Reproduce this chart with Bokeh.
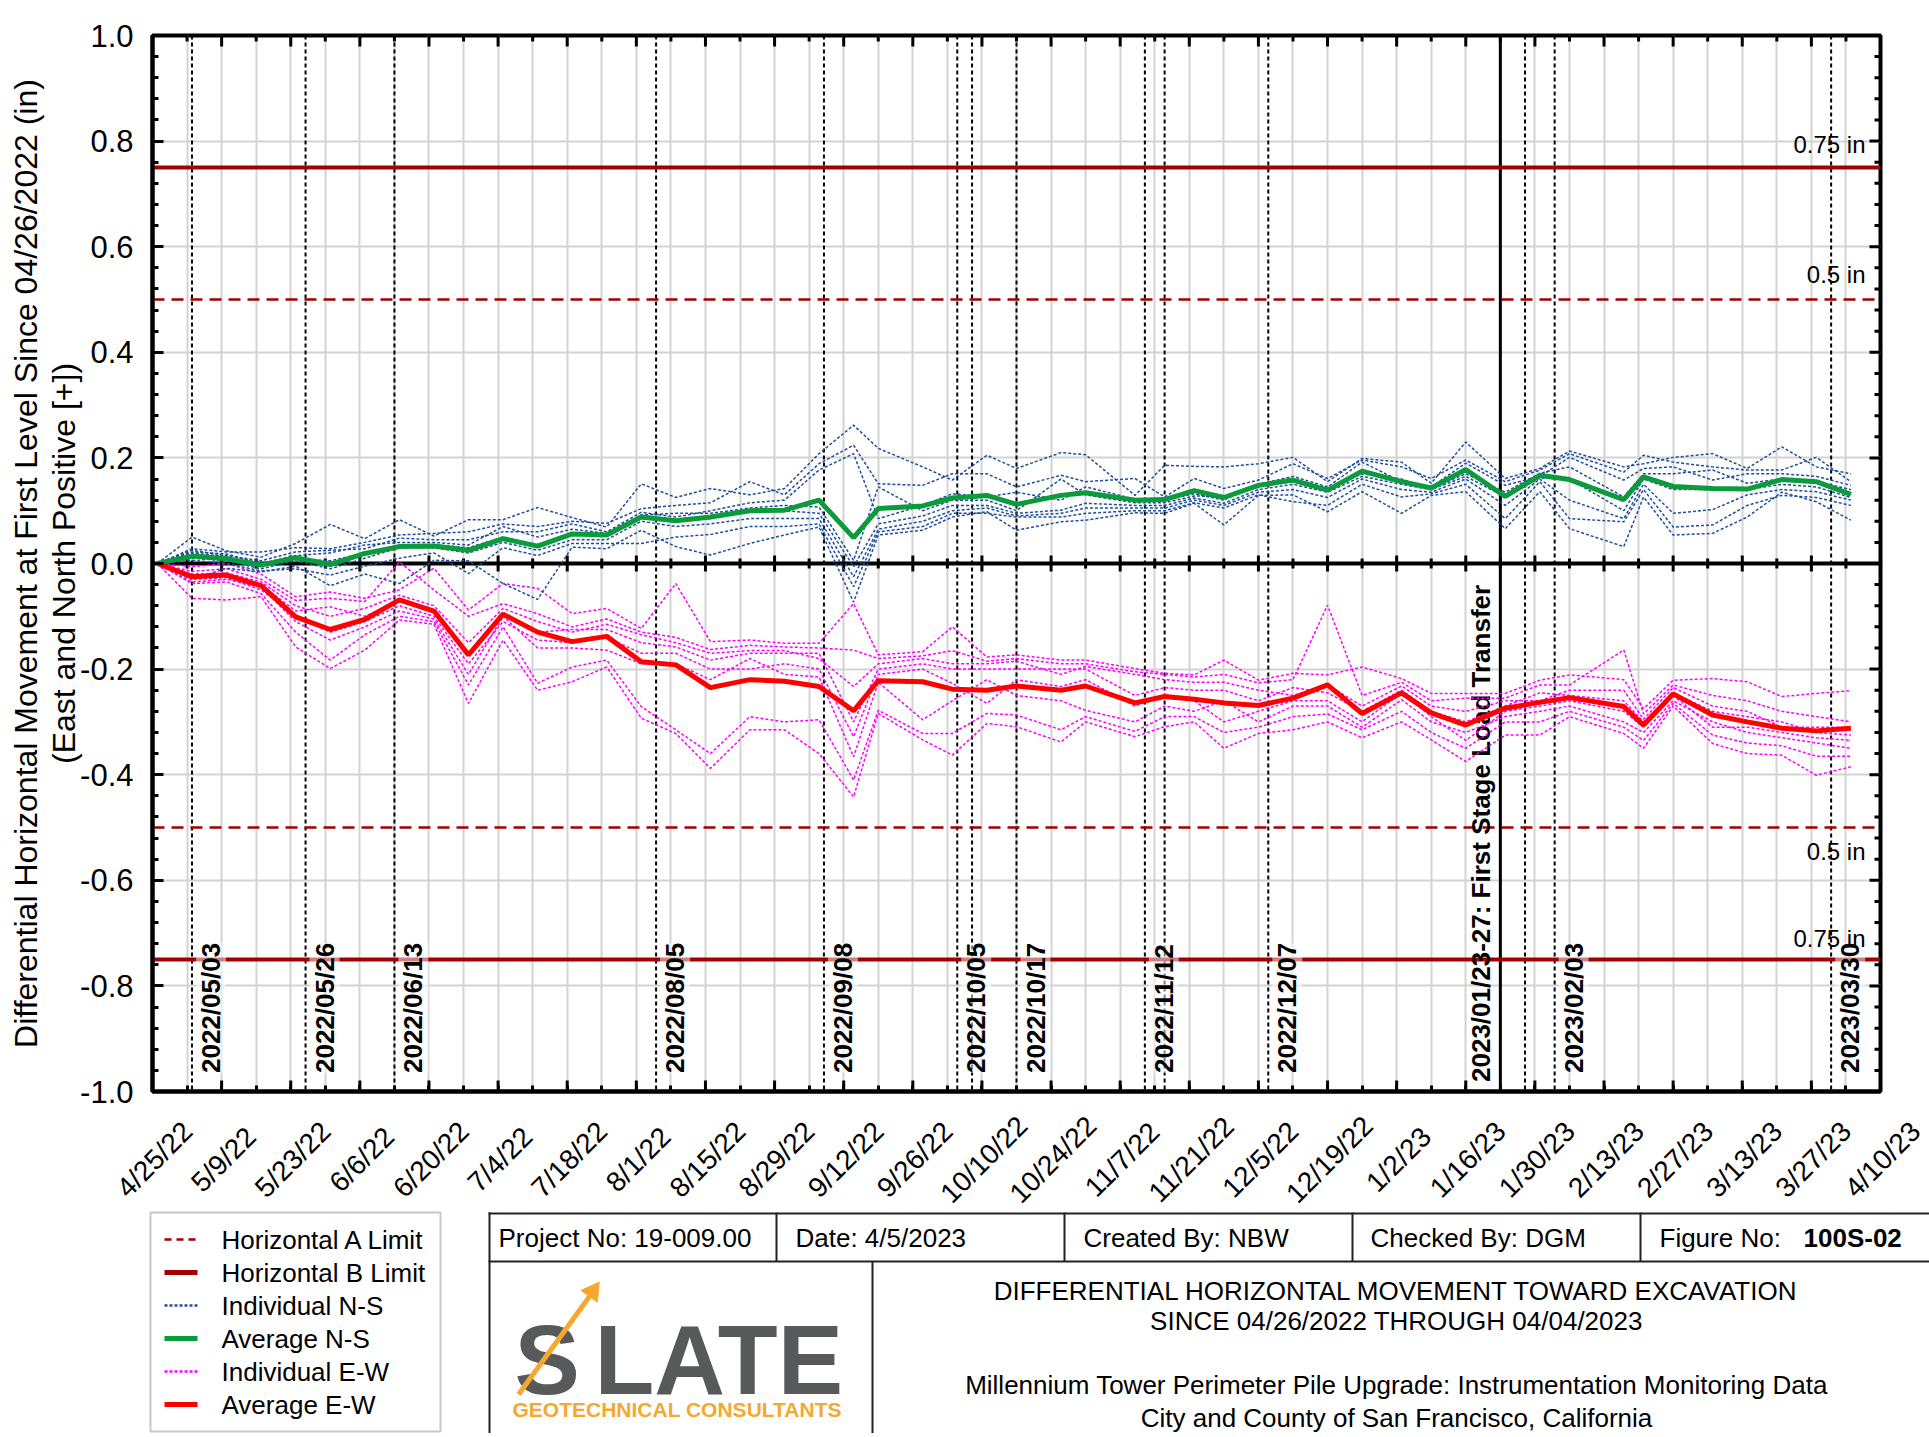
import math
from datetime import datetime
import pandas as pd
from bokeh.plotting import figure
from bokeh.layouts import column
from bokeh.models import (ColumnDataSource, Span, FixedTicker, LinearAxis, PrintfTickFormatter, Range1d)
from bokeh.core.properties import value
from bokeh.embed import file_html
from bokeh.resources import INLINE

FONT = "Liberation Sans"

# ---------------- data ----------------
survey_dates = ["2022-04-26", "2022-05-03", "2022-05-10", "2022-05-17", "2022-05-24", "2022-05-31",
                "2022-06-07", "2022-06-14", "2022-06-21", "2022-06-28", "2022-07-05", "2022-07-12",
                "2022-07-19", "2022-07-26", "2022-08-02", "2022-08-09", "2022-08-16", "2022-08-24",
                "2022-08-31", "2022-09-07", "2022-09-14", "2022-09-19", "2022-09-28", "2022-10-04",
                "2022-10-11", "2022-10-17", "2022-10-26", "2022-10-31", "2022-11-10", "2022-11-16",
                "2022-11-22", "2022-11-28", "2022-12-05", "2022-12-12", "2022-12-19", "2022-12-26",
                "2023-01-03", "2023-01-09", "2023-01-16", "2023-01-24", "2023-01-31", "2023-02-06",
                "2023-02-17", "2023-02-21", "2023-02-27", "2023-03-07", "2023-03-14", "2023-03-21",
                "2023-03-28", "2023-04-04"]

avg_ns = [0.0, 0.014, 0.009, -0.003, 0.011, -0.002, 0.019, 0.032, 0.033, 0.025, 0.047, 0.033,
          0.056, 0.054, 0.088, 0.081, 0.088, 0.100, 0.101, 0.120, 0.049, 0.104, 0.109, 0.124,
          0.129, 0.112, 0.129, 0.134, 0.120, 0.121, 0.138, 0.125, 0.148, 0.158, 0.139, 0.175,
          0.155, 0.143, 0.178, 0.127, 0.167, 0.159, 0.121, 0.164, 0.146, 0.142, 0.141, 0.159,
          0.155, 0.131]

avg_ew = [0.0, -0.025, -0.022, -0.042, -0.101, -0.125, -0.106, -0.069, -0.090, -0.173, -0.096, -0.130,
          -0.148, -0.138, -0.186, -0.192, -0.235, -0.220, -0.223, -0.233, -0.279, -0.222, -0.224, -0.238,
          -0.240, -0.232, -0.240, -0.232, -0.264, -0.252, -0.257, -0.264, -0.269, -0.255, -0.230, -0.284,
          -0.245, -0.283, -0.306, -0.274, -0.263, -0.254, -0.271, -0.306, -0.247, -0.287, -0.300, -0.312,
          -0.317, -0.312]

ns_1 = [0.0, 0.050, 0.024, 0.012, 0.038, 0.074, 0.047, 0.083, 0.052, 0.083, 0.083, 0.106, 0.087, 0.069,
        0.151, 0.125, 0.142, 0.130, 0.142, 0.208, 0.262, 0.218, 0.183, 0.158, 0.205, 0.180, 0.210, 0.206,
        0.129, 0.186, 0.184, 0.183, 0.189, 0.201, 0.155, 0.199, 0.192, 0.152, 0.230, 0.161, 0.180, 0.213,
        0.183, 0.189, 0.201, 0.208, 0.180, 0.221, 0.183, 0.170]
ns_2 = [0.0, 0.028, 0.022, 0.022, 0.030, 0.028, 0.040, 0.054, 0.057, 0.060, 0.075, 0.070, 0.080, 0.076,
        0.104, 0.110, 0.115, 0.155, 0.130, 0.189, 0.224, 0.151, 0.148, 0.170, 0.170, 0.145, 0.167, 0.155,
        0.161, 0.126, 0.161, 0.142, 0.158, 0.189, 0.161, 0.196, 0.183, 0.161, 0.196, 0.155, 0.177, 0.208,
        0.173, 0.205, 0.192, 0.183, 0.177, 0.177, 0.201, 0.155]
ns_3 = [0.0, 0.025, 0.015, 0.005, 0.022, 0.025, 0.028, 0.048, 0.045, 0.045, 0.060, 0.060, 0.075, 0.060,
        0.097, 0.088, 0.100, 0.115, 0.120, 0.177, 0.208, 0.085, 0.110, 0.132, 0.126, 0.135, 0.120, 0.145,
        0.122, 0.120, 0.132, 0.120, 0.150, 0.165, 0.145, 0.192, 0.155, 0.145, 0.190, 0.148, 0.165, 0.201,
        0.158, 0.180, 0.183, 0.158, 0.170, 0.170, 0.165, 0.148]
ns_4 = [0.0, 0.022, 0.018, 0.000, 0.015, 0.020, 0.035, 0.040, 0.040, 0.035, 0.070, 0.050, 0.065, 0.057,
        0.092, 0.095, 0.095, 0.105, 0.110, 0.107, 0.006, 0.145, 0.100, 0.120, 0.120, 0.100, 0.160, 0.130,
        0.115, 0.115, 0.128, 0.126, 0.145, 0.155, 0.140, 0.170, 0.160, 0.142, 0.170, 0.135, 0.171, 0.183,
        0.126, 0.170, 0.170, 0.177, 0.152, 0.160, 0.155, 0.140]
ns_5 = [0.0, 0.020, 0.013, -0.005, 0.010, 0.005, 0.020, 0.035, 0.035, 0.030, 0.050, 0.035, 0.055, 0.052,
        0.085, 0.080, 0.085, 0.100, 0.100, 0.095, -0.006, 0.075, 0.090, 0.110, 0.110, 0.095, 0.101, 0.114,
        0.110, 0.110, 0.124, 0.114, 0.140, 0.150, 0.135, 0.165, 0.150, 0.140, 0.165, 0.126, 0.162, 0.160,
        0.100, 0.160, 0.140, 0.140, 0.140, 0.150, 0.145, 0.125]
ns_6 = [0.0, 0.010, 0.005, -0.010, 0.005, -0.010, 0.010, 0.030, 0.030, 0.020, 0.040, 0.025, 0.045, 0.045,
        0.080, 0.070, 0.075, 0.085, 0.085, 0.085, -0.025, 0.065, 0.080, 0.100, 0.105, 0.090, 0.095, 0.105,
        0.105, 0.105, 0.120, 0.110, 0.135, 0.140, 0.125, 0.160, 0.140, 0.135, 0.160, 0.110, 0.160, 0.120,
        0.085, 0.150, 0.095, 0.102, 0.130, 0.140, 0.136, 0.120]
ns_7 = [0.0, 0.006, 0.000, -0.014, -0.010, -0.022, -0.005, 0.010, 0.020, -0.019, 0.030, 0.015, 0.038, 0.038,
        0.038, 0.050, 0.055, 0.070, 0.070, 0.075, -0.044, 0.060, 0.070, 0.095, 0.095, 0.088, 0.088, 0.095,
        0.100, 0.100, 0.115, 0.105, 0.130, 0.117, 0.110, 0.150, 0.126, 0.132, 0.150, 0.085, 0.155, 0.085,
        0.079, 0.140, 0.069, 0.073, 0.110, 0.129, 0.125, 0.110]
ns_8 = [0.0, -0.030, -0.009, -0.016, -0.005, -0.042, -0.020, -0.038, 0.006, 0.005, -0.038, -0.068, 0.031, 0.028,
        0.063, 0.032, 0.016, 0.038, 0.054, 0.069, -0.073, 0.054, 0.063, 0.088, 0.098, 0.063, 0.079, 0.082,
        0.096, 0.095, 0.114, 0.073, 0.129, 0.130, 0.098, 0.136, 0.095, 0.129, 0.136, 0.066, 0.136, 0.066,
        0.032, 0.126, 0.054, 0.057, 0.088, 0.135, 0.117, 0.082]

ew_1 = [0.0, -0.006, 0.000, -0.020, -0.063, -0.054, -0.066, -0.050, -0.009, -0.088, -0.038, -0.047, -0.095,
        -0.085, -0.123, -0.038, -0.148, -0.145, -0.151, -0.151, -0.076, -0.173, -0.167, -0.120, -0.177,
        -0.173, -0.183, -0.183, -0.199, -0.208, -0.211, -0.183, -0.221, -0.208, -0.211, -0.196, -0.218,
        -0.246, -0.246, -0.246, -0.221, -0.211, -0.220, -0.275, -0.221, -0.218, -0.224, -0.252, -0.246, -0.241]
ew_2 = [0.0, -0.015, -0.010, -0.030, -0.070, -0.066, -0.072, 0.003, -0.050, -0.100, -0.076, -0.095, -0.120,
        -0.105, -0.130, -0.140, -0.163, -0.155, -0.158, -0.160, -0.164, -0.180, -0.175, -0.165, -0.185,
        -0.180, -0.190, -0.190, -0.205, -0.210, -0.215, -0.210, -0.226, -0.220, -0.079, -0.250, -0.225,
        -0.260, -0.255, -0.255, -0.230, -0.230, -0.164, -0.285, -0.230, -0.250, -0.260, -0.280, -0.290, -0.300]
ew_3 = [0.0, -0.020, -0.018, -0.035, -0.080, -0.100, -0.085, -0.060, -0.080, -0.150, -0.085, -0.110, -0.130,
        -0.115, -0.135, -0.150, -0.170, -0.165, -0.165, -0.180, -0.233, -0.190, -0.180, -0.190, -0.190,
        -0.185, -0.210, -0.195, -0.210, -0.220, -0.225, -0.225, -0.240, -0.250, -0.230, -0.270, -0.232,
        -0.270, -0.280, -0.260, -0.260, -0.240, -0.240, -0.295, -0.235, -0.270, -0.280, -0.310, -0.310, -0.310]
ew_4 = [0.0, -0.025, -0.022, -0.040, -0.090, -0.082, -0.100, -0.070, -0.090, -0.170, -0.095, -0.130, -0.125,
        -0.125, -0.150, -0.158, -0.183, -0.170, -0.170, -0.170, -0.300, -0.200, -0.190, -0.200, -0.200,
        -0.200, -0.200, -0.200, -0.250, -0.235, -0.240, -0.240, -0.260, -0.235, -0.245, -0.280, -0.240,
        -0.280, -0.300, -0.270, -0.245, -0.250, -0.260, -0.300, -0.245, -0.280, -0.290, -0.300, -0.320, -0.325]
ew_5 = [0.0, -0.030, -0.027, -0.050, -0.098, -0.130, -0.110, -0.080, -0.100, -0.190, -0.110, -0.145, -0.150,
        -0.140, -0.170, -0.170, -0.200, -0.200, -0.190, -0.200, -0.328, -0.210, -0.200, -0.227, -0.265,
        -0.220, -0.233, -0.220, -0.270, -0.250, -0.260, -0.300, -0.280, -0.260, -0.260, -0.300, -0.245,
        -0.290, -0.335, -0.280, -0.270, -0.260, -0.280, -0.310, -0.250, -0.310, -0.310, -0.320, -0.330, -0.335]
ew_6 = [0.0, -0.035, -0.030, -0.045, -0.110, -0.145, -0.120, -0.090, -0.105, -0.210, -0.100, -0.160, -0.160,
        -0.164, -0.190, -0.190, -0.220, -0.180, -0.210, -0.215, -0.366, -0.225, -0.296, -0.260, -0.220,
        -0.250, -0.260, -0.278, -0.300, -0.270, -0.280, -0.260, -0.300, -0.270, -0.270, -0.310, -0.258,
        -0.300, -0.320, -0.290, -0.280, -0.270, -0.300, -0.320, -0.260, -0.300, -0.320, -0.330, -0.340, -0.350]
ew_7 = [0.0, -0.038, -0.035, -0.057, -0.130, -0.183, -0.135, -0.100, -0.110, -0.230, -0.120, -0.227, -0.196,
        -0.183, -0.271, -0.315, -0.360, -0.290, -0.300, -0.296, -0.410, -0.278, -0.322, -0.322, -0.284,
        -0.287, -0.315, -0.290, -0.318, -0.290, -0.290, -0.320, -0.310, -0.290, -0.285, -0.315, -0.280,
        -0.320, -0.350, -0.300, -0.300, -0.280, -0.310, -0.335, -0.265, -0.325, -0.340, -0.345, -0.365, -0.365]
ew_8 = [0.0, -0.066, -0.069, -0.063, -0.158, -0.199, -0.164, -0.107, -0.115, -0.265, -0.145, -0.240, -0.224,
        -0.196, -0.293, -0.322, -0.388, -0.315, -0.315, -0.360, -0.442, -0.284, -0.334, -0.363, -0.303,
        -0.309, -0.338, -0.300, -0.328, -0.309, -0.300, -0.350, -0.322, -0.315, -0.300, -0.330, -0.300,
        -0.334, -0.375, -0.325, -0.325, -0.290, -0.322, -0.350, -0.270, -0.341, -0.360, -0.363, -0.401, -0.385]

x_tick_labels = ["4/25/22", "5/9/22", "5/23/22", "6/6/22", "6/20/22", "7/4/22", "7/18/22", "8/1/22",
                 "8/15/22", "8/29/22", "9/12/22", "9/26/22", "10/10/22", "10/24/22", "11/7/22",
                 "11/21/22", "12/5/22", "12/19/22", "1/2/23", "1/16/23", "1/30/23", "2/13/23",
                 "2/27/23", "3/13/23", "3/27/23", "4/10/23"]
y_tick_values = [-1.0, -0.8, -0.6, -0.4, -0.2, 0.0, 0.2, 0.4, 0.6, 0.8, 1.0]

limit_a = 0.5
limit_b = 0.75

event_dates = ["2022-05-03", "2022-05-26", "2022-06-13", "2022-08-05", "2022-09-08", "2022-10-05",
               "2022-10-17", "2022-11-12", "2022-12-07", "2023-02-03", "2023-03-31"]
event_labels = ["2022/05/03", "2022/05/26", "2022/06/13", "2022/08/05", "2022/09/08", "2022/10/05",
                "2022/10/17", "2022/11/12", "2022/12/07", "2023/02/03", "2023/03/30"]
unlabeled_event_dates = ["2022-10-08", "2022-11-16", "2023-01-28"]
transfer_date = "2023-01-23"
transfer_label = "2023/01/23-27:  First Stage Load Transfer"

legend_labels = ["Horizontal A Limit", "Horizontal B Limit", "Individual N-S", "Average N-S",
                 "Individual E-W", "Average E-W"]

# ---------------- helpers ----------------
def ms(d):
    return int(pd.Timestamp(d).value // 10**6)

major_dt = [datetime.strptime(s, "%m/%d/%y") for s in x_tick_labels]
major_ms = [ms(d) for d in major_dt]
minor_ms = sorted(set(major_ms + [ms(pd.Timestamp(d) + pd.Timedelta(days=7)) for d in major_dt[:-1]]))
weekly_only = [t for t in minor_ms if t not in major_ms]
y_minor = [round(-1.0 + 0.04 * i, 2) for i in range(51)]
y_minor_only = [v for v in y_minor if v not in y_tick_values]

LIMIT = "#a30000"
GREEN = "#0b9a3c"
RED = "#ff0000"
BLUE = "#1f4e9c"
MAGENTA = "#ff00ff"
GRID = "#d3d3d3"
ORANGE = "#f5a830"
LOGO_GREY = "#58595b"

W = 1929
FL, FR, FT, FB = 152, 1880, 35, 1091     # chart frame edges (page pixels)
H1 = FB + 20                             # height of the chart figure
H2 = 1433 - H1                           # height of the lower strip

src = ColumnDataSource(dict(
    date=[ms(d) for d in survey_dates], avg_ns=avg_ns, avg_ew=avg_ew,
    ns_1=ns_1, ns_2=ns_2, ns_3=ns_3, ns_4=ns_4, ns_5=ns_5, ns_6=ns_6, ns_7=ns_7, ns_8=ns_8,
    ew_1=ew_1, ew_2=ew_2, ew_3=ew_3, ew_4=ew_4, ew_5=ew_5, ew_6=ew_6, ew_7=ew_7, ew_8=ew_8))

x0, x1 = major_ms[0], major_ms[-1]
y0, y1 = y_tick_values[0], y_tick_values[-1]


def no_frame_align(fig):
    try:
        fig.frame_align = False
    except Exception:
        pass


# ---------------- main chart ----------------
p = figure(width=W, height=H1, x_axis_type="datetime",
           x_range=Range1d(x0, x1), y_range=Range1d(y0, y1),
           output_backend="svg", toolbar_location=None,
           min_border_left=FL, min_border_right=W - FR, min_border_top=FT, min_border_bottom=H1 - FB,
           background_fill_color="white", border_fill_color="white")
no_frame_align(p)
p.outline_line_color = "black"
p.outline_line_width = 4

xa = p.xaxis[0]
xa.ticker = FixedTicker(ticks=[], minor_ticks=minor_ms)
xa.axis_line_width = 4
xa.minor_tick_in = 6
xa.minor_tick_out = 0
xa.minor_tick_line_width = 3
xa.major_tick_out = 0
xa.major_label_standoff = 0

ya = p.yaxis[0]
ya.ticker = FixedTicker(ticks=y_tick_values, minor_ticks=y_minor)
ya.formatter = PrintfTickFormatter(format="%.1f")
ya.axis_line_width = 4
ya.major_tick_in = 11
ya.major_tick_out = 0
ya.minor_tick_in = 6
ya.minor_tick_out = 0
ya.major_tick_line_width = 3
ya.minor_tick_line_width = 3
ya.major_label_text_font = FONT
ya.major_label_text_font_size = "31px"
ya.major_label_text_color = "black"
ya.major_label_standoff = 19
ya.axis_label = "(East and North Positive [+])"
ya.axis_label_text_font = FONT
ya.axis_label_text_font_size = "32px"
ya.axis_label_text_font_style = "normal"
ya.axis_label_text_color = "black"
ya.axis_label_standoff = -5

ya2 = LinearAxis(ticker=FixedTicker(ticks=[]),
                 axis_label="Differential Horizontal Movement at First Level Since 04/26/2022 (in)")
ya2.axis_line_color = None
ya2.major_tick_in = 0
ya2.major_tick_out = 0
ya2.minor_tick_in = 0
ya2.minor_tick_out = 0
ya2.major_label_standoff = 0
ya2.axis_label_text_font = FONT
ya2.axis_label_text_font_size = "32px"
ya2.axis_label_text_font_style = "normal"
ya2.axis_label_text_color = "black"
ya2.axis_label_standoff = 0
p.add_layout(ya2, "left")

p.xgrid.ticker = FixedTicker(ticks=minor_ms)
p.ygrid.ticker = FixedTicker(ticks=y_tick_values)
p.grid.grid_line_color = GRID
p.grid.grid_line_width = 2

# event lines
for d in event_dates + unlabeled_event_dates:
    p.add_layout(Span(location=ms(d), dimension="height", line_color="black", line_width=2,
                      line_dash="4 3", level="underlay"))
p.add_layout(Span(location=ms(transfer_date), dimension="height", line_color="black",
                  line_width=3, level="underlay"))
p.add_layout(Span(location=0, dimension="width", line_color="black", line_width=4, level="underlay"))

# limit lines
for v in (limit_b, -limit_b):
    p.line(x=[x0, x1], y=[v, v], line_color=LIMIT, line_width=4)
for v in (limit_a, -limit_a):
    p.line(x=[x0, x1], y=[v, v], line_color=LIMIT, line_width=2.5, line_dash="12 7")

# tick marks on the frame edges and on the zero line
tick_kw = dict(marker="dash", line_color="black", line_width=3)
for yy in (y0, y1):
    p.scatter(x=major_ms, y=[yy] * len(major_ms), angle=math.pi / 2, size=22, **tick_kw)
p.scatter(x=weekly_only, y=[y1] * len(weekly_only), angle=math.pi / 2, size=12, **tick_kw)
p.scatter(x=[x1] * len(y_tick_values), y=y_tick_values, size=22, **tick_kw)
p.scatter(x=[x1] * len(y_minor_only), y=y_minor_only, size=12, **tick_kw)
p.scatter(x=major_ms, y=[0.0] * len(major_ms), angle=math.pi / 2, size=16, **tick_kw)
p.scatter(x=weekly_only, y=[0.0] * len(weekly_only), angle=math.pi / 2, size=10, **tick_kw)

# event labels
ev_src = ColumnDataSource(dict(x=[ms(d) for d in event_dates], text=event_labels))
p.text(x="x", y=-0.965, text="text", source=ev_src, angle=math.pi / 2, text_align="left",
       text_baseline="top", x_offset=4, text_font=value(FONT), text_font_style="bold",
       text_font_size="26px", text_color="black",
       background_fill_color="white", background_fill_alpha=0.5)
p.text(x=[ms(transfer_date)], y=[-0.982], text=[transfer_label], angle=math.pi / 2,
       text_align="left", text_baseline="bottom", x_offset=-4, text_font=value(FONT),
       text_font_style="bold", text_font_size="26px", text_color="black")

# limit labels
lim_kw = dict(text_align="right", text_baseline="alphabetic", x_offset=-15,
              text_font=value(FONT), text_font_size="24px", text_color="black")
p.text(x=[x1], y=[limit_b], text=["0.75 in"], y_offset=-23, **lim_kw)
p.text(x=[x1], y=[limit_a], text=["0.5 in"], y_offset=-25, **lim_kw)
p.text(x=[x1], y=[-limit_a], text=["0.5 in"], y_offset=24, **lim_kw)
p.text(x=[x1], y=[-limit_b], text=["0.75 in"], y_offset=-21, **lim_kw)

# data
for c in ["ew_1", "ew_2", "ew_3", "ew_4", "ew_5", "ew_6", "ew_7", "ew_8"]:
    p.line(x="date", y=c, source=src, line_color=MAGENTA, line_width=1.5, line_dash="3 2")
for c in ["ns_1", "ns_2", "ns_3", "ns_4", "ns_5", "ns_6", "ns_7", "ns_8"]:
    p.line(x="date", y=c, source=src, line_color=BLUE, line_width=1.5, line_dash="3 2")
p.line(x="date", y="avg_ns", source=src, line_color=GREEN, line_width=5)
p.line(x="date", y="avg_ew", source=src, line_color=RED, line_width=5)

# ---------------- lower strip: x tick labels, legend, title block ----------------
k = (x1 - x0) / (FR - FL)          # ms per pixel, identical to the chart's x scale


def X(px):
    return x0 + (px - FL) * k


p2 = figure(width=W, height=H2, x_range=Range1d(X(0), X(W)), y_range=Range1d(1433, H1),
            output_backend="svg", toolbar_location=None, min_border=0,
            x_axis_location=None, y_axis_location=None,
            background_fill_color="white", border_fill_color="white")
no_frame_align(p2)
p2.outline_line_color = None
p2.grid.visible = False

# x tick labels (centred under the chart's ticks)
p2.text(x=major_ms, y=[1159] * len(major_ms), text=x_tick_labels, angle=math.pi / 4,
        x_offset=2, text_align="center", text_baseline="middle", text_font=value(FONT),
        text_font_size="28px", text_color="black")

# legend
p2.quad(left=[X(150)], right=[X(440)], top=[1212], bottom=[1431], fill_color="white",
        line_color="#c8c8c8", line_width=2)
rows = [1239, 1272, 1305, 1338, 1371, 1404]
p2.segment(x0=[X(164)], y0=[rows[0]], x1=[X(197)], y1=[rows[0]], line_color=LIMIT,
           line_width=2.5, line_dash="7 5")
p2.segment(x0=[X(164)], y0=[rows[1]], x1=[X(197)], y1=[rows[1]], line_color=LIMIT, line_width=5)
p2.segment(x0=[X(164)], y0=[rows[2]], x1=[X(197)], y1=[rows[2]], line_color=BLUE,
           line_width=2.5, line_dash="3 2")
p2.segment(x0=[X(164)], y0=[rows[3]], x1=[X(197)], y1=[rows[3]], line_color=GREEN, line_width=5)
p2.segment(x0=[X(164)], y0=[rows[4]], x1=[X(197)], y1=[rows[4]], line_color=MAGENTA,
           line_width=2.5, line_dash="3 2")
p2.segment(x0=[X(164)], y0=[rows[5]], x1=[X(197)], y1=[rows[5]], line_color=RED, line_width=5)
p2.text(x=[X(221)] * 6, y=rows, text=legend_labels, text_align="left", text_baseline="middle",
        text_font=value(FONT), text_font_size="26px", text_color="black")

# title block frame
p2.segment(x0=[X(488), X(488), X(489), X(776), X(1064), X(1352), X(1640), X(872)],
           y0=[1213, 1261, 1212, 1212, 1212, 1212, 1212, 1261],
           x1=[X(W), X(W), X(489), X(776), X(1064), X(1352), X(1640), X(872)],
           y1=[1213, 1261, 1433, 1261, 1261, 1261, 1261, 1433],
           line_color="#222222", line_width=2)

hdr_kw = dict(text_baseline="middle", text_align="left", text_font=value(FONT),
              text_font_size="26px", text_color="black")
p2.text(x=[X(498), X(795), X(1083), X(1370), X(1659)], y=[1237] * 5,
        text=["Project No: 19-009.00", "Date:  4/5/2023", "Created By:  NBW",
              "Checked By:  DGM", "Figure No:"], **hdr_kw)
p2.text(x=[X(1803)], y=[1237], text=["100S-02"], text_font_style="bold", **hdr_kw)

body_kw = dict(text_baseline="middle", text_align="center", text_font=value(FONT),
               text_font_size="26px", text_color="black")
p2.text(x=[X(1396)] * 4, y=[1290, 1320, 1384, 1417],
        text=["DIFFERENTIAL HORIZONTAL MOVEMENT TOWARD EXCAVATION",
              "SINCE 04/26/2022 THROUGH 04/04/2023",
              "Millennium Tower Perimeter Pile Upgrade: Instrumentation Monitoring Data",
              "City and County of San Francisco, California"], **body_kw)

# logo
logo_kw = dict(text_baseline="alphabetic", text_align="left", text_font=value(FONT),
               text_font_style="bold", text_font_size="98px", text_color=LOGO_GREY)
p2.text(x=[X(514)], y=[1359], text=["S"], **logo_kw)
p2.text(x=[X(594)], y=[1359], text=["LATE"], **logo_kw)
p2.segment(x0=[X(518)], y0=[1394], x1=[X(589)], y1=[1296], line_color=ORANGE, line_width=5)
p2.scatter(x=[X(592)], y=[1291], marker="triangle", angle=-0.62, size=20,
           fill_color=ORANGE, line_color=ORANGE)
p2.text(x=[X(512)], y=[1409], text=["GEOTECHNICAL CONSULTANTS"], text_baseline="alphabetic",
        text_font=value(FONT), text_font_style="bold", text_font_size="21px", text_color=ORANGE)

layout = column(p, p2, spacing=0)
open("out.html", "w").write(file_html(layout, INLINE))
